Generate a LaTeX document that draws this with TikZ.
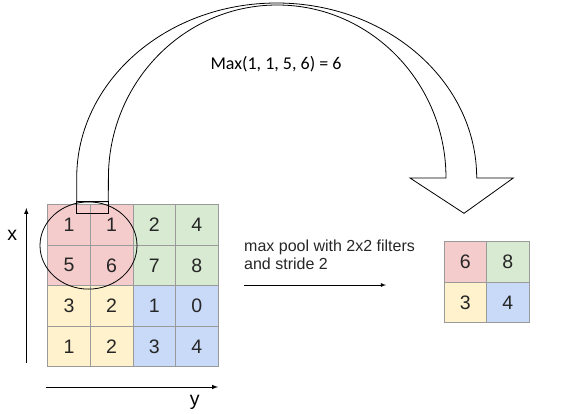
\documentclass[tikz,border=0pt]{standalone}
\usepackage{fontspec}
\setmainfont{Liberation Sans}
\newfontfamily\carlito{Carlito}
\usetikzlibrary{calc}

\definecolor{poolred}{HTML}{F4CCCC}
\definecolor{poolgreen}{HTML}{D9EAD3}
\definecolor{poolyellow}{HTML}{FFF2CC}
\definecolor{poolblue}{HTML}{C9DAF8}
\definecolor{gridline}{HTML}{9A9A9A}

\tikzset{
    cell/.style={draw=gridline, line width=0.8pt, inner sep=0pt,
        minimum width=42.6pt, minimum height=40.5pt,
        text=black!85, font=\fontsize{19.5}{19.5}\selectfont},
    axis/.style={line width=1pt, -latex},
}

\begin{document}
\begin{tikzpicture}[x=1pt, y=-1pt]

        \useasboundingbox (0,0) rectangle (567,413);

        % Input feature map, 4x4
        \node[cell, fill=poolred]    (a11) at (69,224.8)    {1};
        \node[cell, fill=poolred]    (a12) at (111.6,224.8) {1};
        \node[cell, fill=poolgreen]  (a13) at (154.2,224.8) {2};
        \node[cell, fill=poolgreen]  (a14) at (196.8,224.8) {4};
        \node[cell, fill=poolred]    (a21) at (69,265.3)    {5};
        \node[cell, fill=poolred]    (a22) at (111.6,265.3) {6};
        \node[cell, fill=poolgreen]  (a23) at (154.2,265.3) {7};
        \node[cell, fill=poolgreen]  (a24) at (196.8,265.3) {8};
        \node[cell, fill=poolyellow] (a31) at (69,305.8)    {3};
        \node[cell, fill=poolyellow] (a32) at (111.6,305.8) {2};
        \node[cell, fill=poolblue]   (a33) at (154.2,305.8) {1};
        \node[cell, fill=poolblue]   (a34) at (196.8,305.8) {0};
        \node[cell, fill=poolyellow] (a41) at (69,346.3)    {1};
        \node[cell, fill=poolyellow] (a42) at (111.6,346.3) {2};
        \node[cell, fill=poolblue]   (a43) at (154.2,346.3) {3};
        \node[cell, fill=poolblue]   (a44) at (196.8,346.3) {4};

        % Pooled output, 2x2
        \node[cell, fill=poolred]    (b11) at (465.3,262.1) {6};
        \node[cell, fill=poolgreen]  (b12) at (507.9,262.1) {8};
        \node[cell, fill=poolyellow] (b21) at (465.3,302.6) {3};
        \node[cell, fill=poolblue]   (b22) at (507.9,302.6) {4};

        % Axes
        \coordinate (xlow) at (26.3,362.7);
        \coordinate (xhigh) at (26.3,208);
        \coordinate (yleft) at (45.7,387);
        \coordinate (yright) at (218,387);
        \draw[axis] (xlow) -- (xhigh);
        \draw[axis] (yleft) -- (yright);
        \node[anchor=base, font=\fontsize{19.5}{19.5}\selectfont] (xlabel) at (12.3,240.8) {x};
        \node[anchor=base, font=\fontsize{19.5}{19.5}\selectfont] (ylabel) at (194.7,405) {y};

        % Window of the first filter
        \draw[line width=0.8pt] (88.5,245.5) ellipse [x radius=48.5pt, y radius=43.6pt];

        % Curved arrow from the window to the output
        \draw[line width=0.8pt, fill=white]
            (76.7,201.7) -- (76.7,178)
            arc[start angle=180, end angle=0, x radius=200pt, y radius=175pt]
            -- (513.3,178) -- (464,213.3) -- (410,178) -- (446,178)
            arc[start angle=0, end angle=180, x radius=168.8pt, y radius=173pt]
            -- (108.3,201.7) -- cycle;
        \draw[line width=0.8pt] (76.7,201.7) rectangle (108.3,213.3);
        \node[font=\carlito\fontsize{18}{18}\selectfont] (maxlabel) at (276,64.3) {Max(1, 1, 5, 6) = 6};

        % Pooling step
        \node[anchor=north west, inner sep=0pt, align=left, text=black!85,
            font=\fontsize{16}{18.6}\selectfont] (poollabel) at (244,239.5)
            {max pool with 2x2 filters\\and stride 2};
        \coordinate (poolstart) at (244,285);
        \coordinate (poolend) at (386,285);
        \draw[axis, line width=0.8pt] (poolstart) -- (poolend);

\end{tikzpicture}
\end{document}
